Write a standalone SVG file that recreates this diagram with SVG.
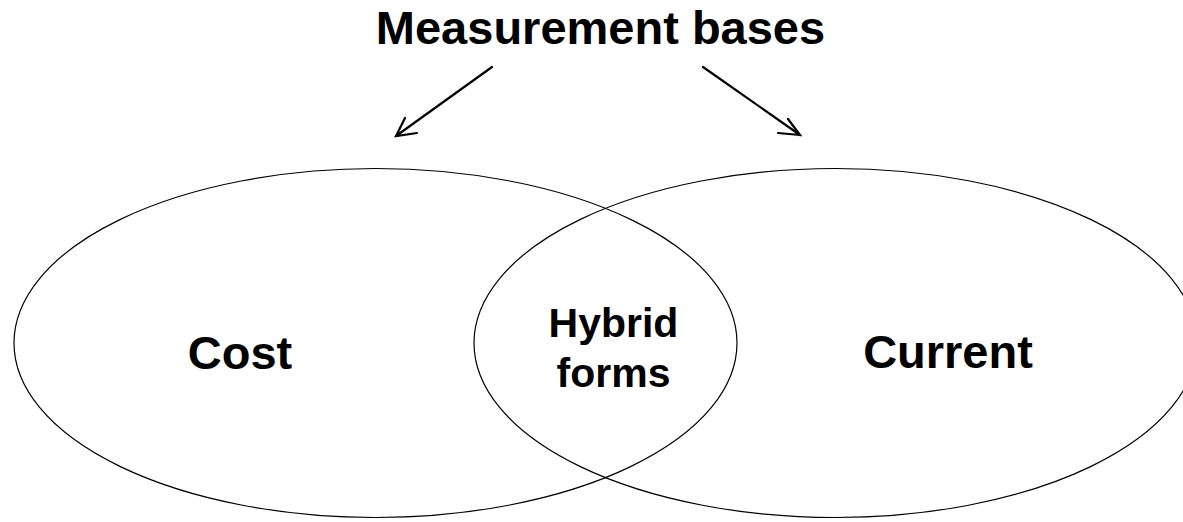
<svg xmlns="http://www.w3.org/2000/svg" width="1183" height="522" viewBox="0 0 1183 522">
<style>
.t{font-family:"Liberation Sans",Arial,sans-serif;font-weight:bold;fill:#000;text-anchor:middle}
.e{fill:none;stroke:#000;stroke-width:1.2}
.c{fill:none;stroke:#000;stroke-width:2.2;stroke-linecap:round}
</style>
<rect width="1183" height="522" fill="#fff"/>
<g id="title"><text class="t" x="600.5" y="44" font-size="47">Measurement bases</text></g>
<g id="cost"><ellipse class="e" cx="375.5" cy="343" rx="361.5" ry="174.5"/><text class="t" x="240" y="369" font-size="47">Cost</text></g>
<g id="current"><ellipse class="e" cx="835.5" cy="343" rx="361.5" ry="174.5"/><text class="t" x="948" y="368" font-size="47">Current</text></g>
<g id="hybrid"><text class="t" x="613.5" y="337" font-size="41">Hybrid</text><text class="t" x="613.5" y="387" font-size="41">forms</text></g>
<g id="connectors">
<path class="c" d="M492 67 L396 136 M405 118 L396 136 L417 133"/>
<path class="c" d="M703 67 L800 135 M788 119 L800 135 L778 133"/>
</g>
</svg>
